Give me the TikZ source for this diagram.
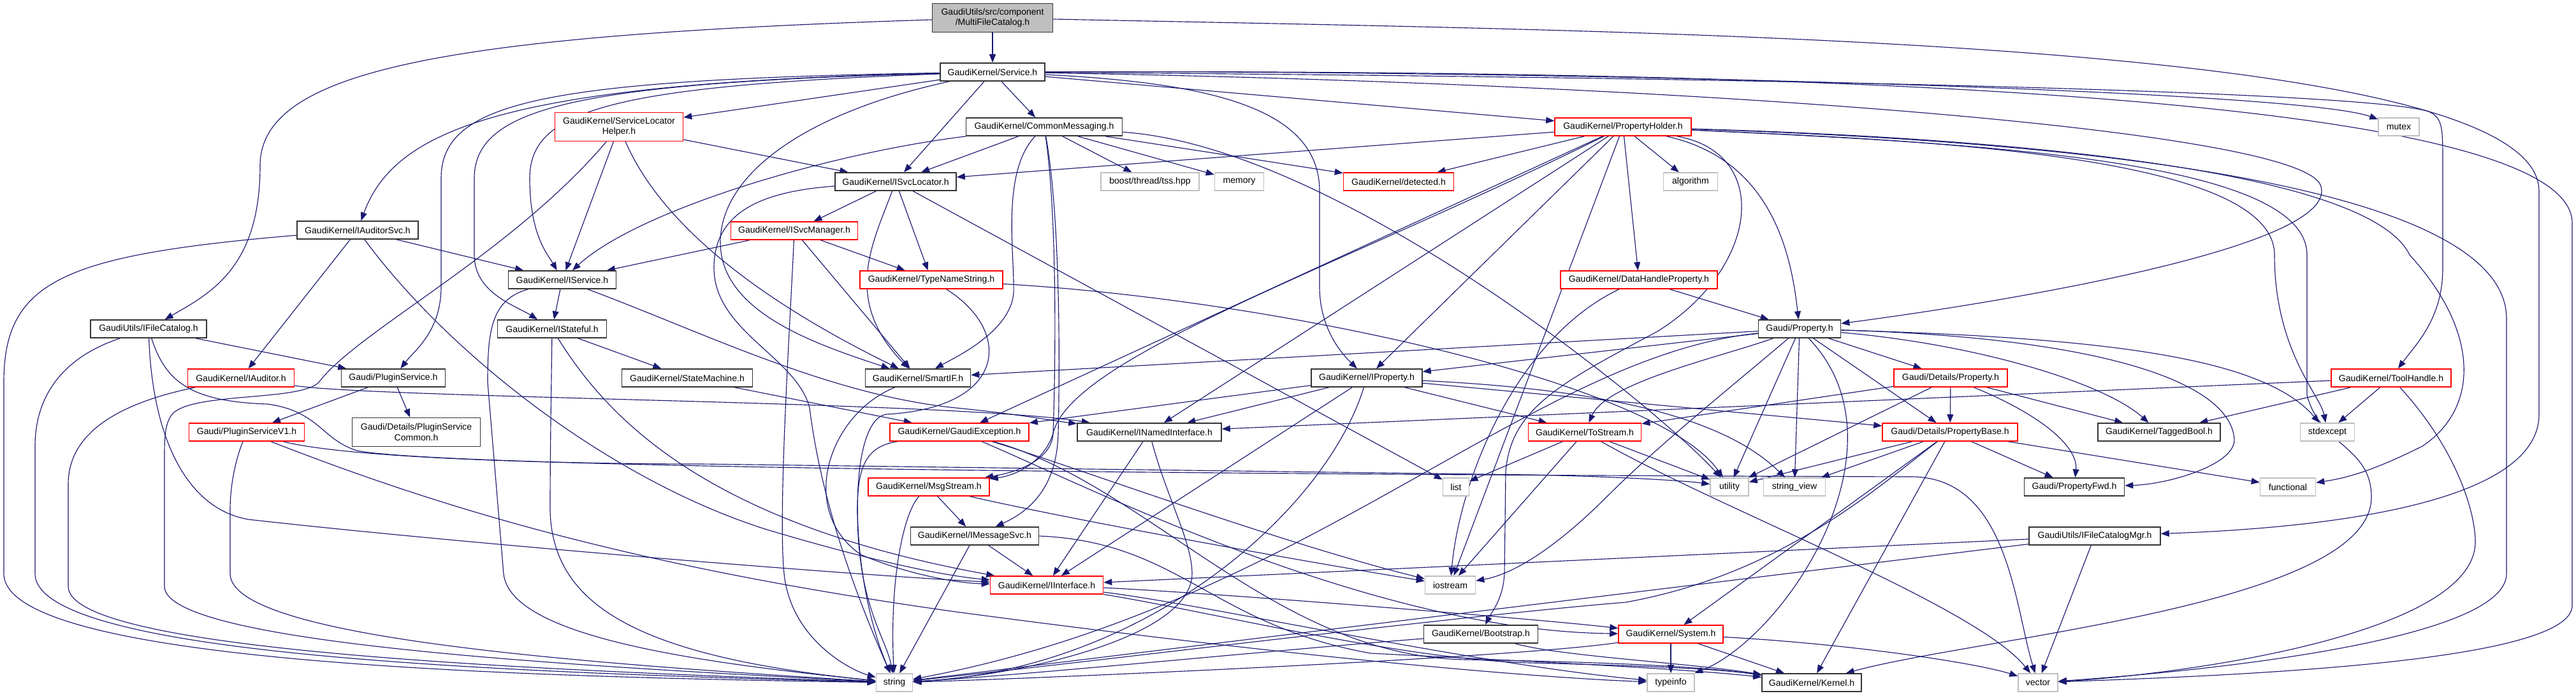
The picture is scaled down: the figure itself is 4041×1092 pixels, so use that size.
\documentclass[tikz,border=0pt]{standalone}
\usepackage{fontspec}
\setmainfont{Liberation Sans}
\usetikzlibrary{arrows.meta,backgrounds}
\definecolor{edgeblue}{HTML}{191970}
\definecolor{truncred}{HTML}{FF0000}
\definecolor{extgray}{HTML}{BFBFBF}
\tikzset{
  hdr/.style={draw=black!80, fill=white, line width=0.9pt, minimum height=0.56cm,
    inner xsep=2pt, inner ysep=1pt, font=\fontsize{8}{9.5}\selectfont, align=center},
  trunc/.style={hdr, draw=truncred},
  ext/.style={hdr, draw=extgray},
  cur/.style={hdr, fill=extgray},
  dep/.style={draw=edgeblue, line width=0.65pt, -{Triangle[length=2.6mm,width=2mm]}}
}
\begin{document}
\begin{tikzpicture}[x=0.02cm, y=-0.02cm]
   \useasboundingbox (0,0) rectangle (4041,1092);

          \node[cur, minimum width=3.78cm, minimum height=0.9cm] (root) at(1557,28) {GaudiUtils/src/component\\/MultiFileCatalog.h};
          \node[hdr, minimum width=3.28cm] (svc) at(1557,113) {GaudiKernel/Service.h};
          \node[trunc, minimum width=4.02cm, minimum height=0.9cm] (slh) at(971,199) {GaudiKernel/ServiceLocator\\Helper.h};
          \node[hdr, minimum width=4.90cm] (cmsg) at(1638,199) {GaudiKernel/CommonMessaging.h};
          \node[trunc, minimum width=4.28cm] (ph) at(2546,199) {GaudiKernel/PropertyHolder.h};
          \node[ext, minimum width=1.28cm] (mtx) at(3763,199) {mutex};
          \node[hdr, minimum width=3.80cm] (isl) at(1405,285) {GaudiKernel/ISvcLocator.h};
          \node[ext, minimum width=3.08cm] (tss) at(1804,285) {boost/thread/tss.hpp};
          \node[ext, minimum width=1.54cm] (mem) at(1944,285) {memory};
          \node[trunc, minimum width=3.46cm] (det) at(2194,285) {GaudiKernel/detected.h};
          \node[ext, minimum width=1.70cm] (alg) at(2652,285) {algorithm};
          \node[hdr, minimum width=3.80cm] (ias) at(561,361) {GaudiKernel/IAuditorSvc.h};
          \node[trunc, minimum width=3.98cm] (ism) at(1246,362) {GaudiKernel/ISvcManager.h};
          \node[hdr, minimum width=3.38cm] (isv) at(882,439) {GaudiKernel/IService.h};
          \node[trunc, minimum width=4.48cm] (tns) at(1461,439) {GaudiKernel/TypeNameString.h};
          \node[trunc, minimum width=4.92cm] (dhp) at(2571,439) {GaudiKernel/DataHandleProperty.h};
          \node[hdr, minimum width=3.64cm] (ifc) at(233,516) {GaudiUtils/IFileCatalog.h};
          \node[hdr, minimum width=3.42cm] (ist) at(866,516) {GaudiKernel/IStateful.h};
          \node[hdr, minimum width=2.58cm] (prop) at(2823,516) {Gaudi/Property.h};
          \node[trunc, minimum width=3.34cm] (iad) at(378,593) {GaudiKernel/IAuditor.h};
          \node[hdr, minimum width=3.26cm] (psv) at(617,593) {Gaudi/PluginService.h};
          \node[hdr, minimum width=4.10cm] (stm) at(1078,593) {GaudiKernel/StateMachine.h};
          \node[hdr, minimum width=3.30cm] (sif) at(1440,593) {GaudiKernel/SmartIF.h};
          \node[hdr, minimum width=3.48cm] (iprp) at(2144,593) {GaudiKernel/IProperty.h};
          \node[trunc, minimum width=3.56cm] (dprp) at(3060,593) {Gaudi/Details/Property.h};
          \node[trunc, minimum width=3.76cm] (th) at(3751,593) {GaudiKernel/ToolHandle.h};
          \node[trunc, minimum width=3.62cm] (psv1) at(387,678) {Gaudi/PluginServiceV1.h};
          \node[hdr, minimum width=4.02cm, minimum height=0.9cm] (psc) at(653,678) {Gaudi/Details/PluginService\\Common.h};
          \node[trunc, minimum width=4.36cm] (gex) at(1505,678) {GaudiKernel/GaudiException.h};
          \node[hdr, minimum width=4.52cm] (inm) at(1803,678) {GaudiKernel/INamedInterface.h};
          \node[trunc, minimum width=3.54cm] (tst) at(2486,678) {GaudiKernel/ToStream.h};
          \node[trunc, minimum width=4.24cm] (pbase) at(3059,678) {Gaudi/Details/PropertyBase.h};
          \node[hdr, minimum width=3.84cm] (tb) at(3387,678) {GaudiKernel/TaggedBool.h};
          \node[ext, minimum width=1.70cm] (stdx) at(3651,678) {stdexcept};
          \node[trunc, minimum width=3.80cm] (msg) at(1457,764) {GaudiKernel/MsgStream.h};
          \node[ext, minimum width=0.82cm] (lst) at(2284,764) {list};
          \node[ext, minimum width=1.20cm] (utl) at(2713,764) {utility};
          \node[ext, minimum width=1.94cm] (sv) at(2815,764) {string\_view};
          \node[hdr, minimum width=3.14cm] (pfwd) at(3254,764) {Gaudi/PropertyFwd.h};
          \node[ext, minimum width=1.74cm] (fnc) at(3589,764) {functional};
          \node[hdr, minimum width=4.02cm] (ims) at(1529,841) {GaudiKernel/IMessageSvc.h};
          \node[hdr, minimum width=4.12cm] (ifcm) at(3286,841) {GaudiUtils/IFileCatalogMgr.h};
          \node[trunc, minimum width=3.54cm] (iif) at(1642,918) {GaudiKernel/IInterface.h};
          \node[ext, minimum width=1.58cm] (ios) at(2275,918) {iostream};
          \node[hdr, minimum width=3.58cm] (bst) at(2323,995) {GaudiKernel/Bootstrap.h};
          \node[trunc, minimum width=3.28cm] (sys) at(2621,995) {GaudiKernel/System.h};
          \node[ext, minimum width=1.14cm] (str) at(1403,1071) {string};
          \node[ext, minimum width=1.48cm] (tinf) at(2621,1071) {typeinfo};
          \node[hdr, minimum width=3.12cm] (krn) at(2842,1071) {GaudiKernel/Kernel.h};
          \node[ext, minimum width=1.24cm] (vec) at(3197,1071) {vector};

  \begin{scope}[on background layer]
    \foreach \a/\b in {root/svc, svc/slh, svc/cmsg, svc/isl, svc/ph, slh/isl, slh/isv,
             cmsg/isl, cmsg/tss, cmsg/mem, cmsg/det, ph/isl, ph/det, ph/alg, ph/dhp,
             ph/iprp, ph/inm, ph/gex, ph/ios, isl/ism, isl/tns, isl/lst, ism/isv,
             ism/sif, ism/tns, ias/isv, ias/iad, isv/ist, ist/stm, stm/gex, ifc/psv,
             psv/psv1, psv/psc, inm/iif, msg/ims, ims/iif, ims/str, sys/tinf, sys/krn,
             dhp/prop, prop/sif, prop/iprp, prop/dprp, prop/pbase, prop/sv, prop/utl,
             iprp/inm, iprp/gex, iprp/iif, iprp/tst, iprp/pbase, dprp/pbase, dprp/tb,
             dprp/tst, dprp/utl, pbase/pfwd, pbase/utl, pbase/sv, pbase/fnc, pbase/sys,
             pbase/krn, tst/lst, tst/ios, tst/utl, th/inm, th/tb, th/stdx, ifcm/iif,
             ifcm/str, ifcm/vec}
             {
               \draw[dep] (\a) -- (\b);
             }

             \draw[dep] (root) .. controls (700,55) and (408,110) .. (408,260)
                .. controls (408,420) and (330,460) .. (ifc);
             \draw[dep] (root) .. controls (2600,50) and (3983,60) .. (3983,300) -- (3983,650)
                .. controls (3983,800) and (3600,830) .. (ifcm);

             \draw[dep] (svc) .. controls (2400,110) and (3600,140) .. (mtx);
             \draw[dep] (svc) .. controls (2600,120) and (3700,140) .. (3810,175)
                .. controls (3832,185) and (3832,200) .. (3832,260) -- (3832,420)
                .. controls (3832,500) and (3790,540) .. (th);
             \draw[dep] (svc) .. controls (2600,110) and (4035,130) .. (4035,350) -- (4035,950)
                .. controls (4035,1040) and (3500,1060) .. (vec);
             \draw[dep] (svc) .. controls (2600,130) and (3600,200) .. (3640,290)
                .. controls (3680,390) and (3100,480) .. (prop);
             \draw[dep] (svc) .. controls (1900,130) and (2070,170) .. (2070,300) -- (2070,450)
                .. controls (2070,520) and (2110,560) .. (iprp);
             \draw[dep] (svc) .. controls (800,130) and (620,200) .. (ias);
             \draw[dep] (svc) .. controls (850,125) and (692,160) .. (692,280) -- (692,450)
                .. controls (692,520) and (650,550) .. (psv);
             \draw[dep] (svc) .. controls (900,130) and (744,170) .. (744,280) -- (744,400)
                .. controls (744,460) and (810,480) .. (ist);
             \draw[dep] (svc) .. controls (950,135) and (831,175) .. (831,280)
                .. controls (831,370) and (860,400) .. (isv);
             \draw[dep] (svc) .. controls (1250,180) and (1130,280) .. (1130,380)
                .. controls (1130,490) and (1280,540) .. (sif);

             \draw[dep] (slh) .. controls (1050,380) and (1250,500) .. (sif);
             \draw[dep] (slh) .. controls (800,400) and (560,520) .. (500,600)
                .. controls (470,630) and (300,615) .. (270,650)
                .. controls (258,665) and (258,690) .. (258,720) -- (258,920)
                .. controls (258,1010) and (900,1045) .. (str);

             \draw[dep] (cmsg) .. controls (1300,240) and (1000,330) .. (isv);
             \draw[dep] (cmsg) .. controls (2100,230) and (2600,640) .. (utl);
             \draw[dep] (cmsg) .. controls (1570,270) and (1592,400) .. (1590,460)
                .. controls (1585,520) and (1500,560) .. (sif);
             \draw[dep] (cmsg) .. controls (1660,350) and (1655,600) .. (1652,680)
                .. controls (1650,720) and (1600,740) .. (msg);
             \draw[dep] (cmsg) .. controls (1665,350) and (1662,600) .. (1660,680)
                .. controls (1658,760) and (1620,800) .. (ims);

             \draw[dep] (ph) .. controls (2780,250) and (2810,400) .. (prop);
             \draw[dep] (ph) .. controls (2780,240) and (2760,420) .. (2600,520)
                .. controls (2450,600) and (2370,640) .. (2362,740) -- (2360,900)
                .. controls (2358,940) and (2340,960) .. (bst);
             \draw[dep] (ph) .. controls (2100,420) and (1680,560) .. (1652,680)
                .. controls (1640,720) and (1600,745) .. (msg);
             \draw[dep] (ph) .. controls (3000,220) and (3568,240) .. (3568,400)
                .. controls (3568,550) and (3640,620) .. (stdx);
             \draw[dep] (ph) .. controls (3200,220) and (3932,280) .. (3932,500) -- (3932,900)
                .. controls (3932,1000) and (3500,1050) .. (vec);
             \draw[dep] (ph) .. controls (3100,215) and (3713,260) .. (3780,400)
                .. controls (3890,520) and (3890,640) .. (3800,700)
                .. controls (3720,740) and (3680,750) .. (fnc);
             \draw[dep] (ph) .. controls (3100,225) and (3619,250) .. (3619,400) -- (3619,620)
                .. controls (3640,700) and (3720,700) .. (3720,780)
                .. controls (3720,950) and (3100,1000) .. (krn);

             \draw[dep] (isl) .. controls (1370,380) and (1320,470) .. (sif);
             \draw[dep] (isl) .. controls (1200,300) and (1120,330) .. (1120,420)
                .. controls (1120,520) and (1250,560) .. (1270,640)
                .. controls (1290,800) and (1350,950) .. (str);
             \draw[dep] (ism) .. controls (1240,500) and (1220,800) .. (1230,900)
                .. controls (1240,1000) and (1330,1050) .. (str);

             \draw[dep] (ias) .. controls (100,400) and (6,440) .. (6,600) -- (6,900)
                .. controls (6,1040) and (800,1062) .. (str);
             \draw[dep] (ias) .. controls (700,550) and (950,750) .. (1200,830)
                .. controls (1400,890) and (1500,905) .. (iif);
             \draw[dep] (isv) .. controls (1100,520) and (1300,620) .. (1500,640)
                .. controls (1600,650) and (1650,660) .. (inm);
             \draw[dep] (isv) .. controls (770,470) and (765,520) .. (765,600) -- (790,900)
                .. controls (800,1000) and (1100,1040) .. (str);
             \draw[dep] (ist) .. controls (950,650) and (1100,820) .. (iif);
             \draw[dep] (ist) .. controls (865,600) and (863,700) .. (863,800)
                .. controls (866,950) and (1000,1030) .. (str);

             \draw[dep] (tns) .. controls (1590,520) and (1580,640) .. (1390,650)
                .. controls (1330,660) and (1330,900) .. (str);
             \draw[dep] (tns) .. controls (2000,470) and (2600,600) .. (utl);
             \draw[dep] (sif) .. controls (1300,650) and (1250,800) .. (1350,870)
                .. controls (1420,900) and (1500,915) .. (iif);

             \draw[dep] (ifc) .. controls (100,560) and (55,620) .. (55,700) -- (55,900)
                .. controls (55,1030) and (800,1055) .. (str);
             \draw[dep] (ifc) .. controls (240,700) and (300,800) .. (390,815)
                .. controls (700,850) and (1300,900) .. (iif);
             \draw[dep] (ifc) .. controls (260,600) and (300,630) .. (420,634)
                .. controls (500,645) and (505,690) .. (560,707)
                .. controls (700,735) and (2000,745) .. (3000,748)
                .. controls (3150,750) and (3160,950) .. (vec);
             \draw[dep] (iad) .. controls (600,625) and (1500,630) .. (inm);
             \draw[dep] (iad) .. controls (150,640) and (107,700) .. (107,760) -- (107,920)
                .. controls (107,1020) and (800,1050) .. (str);
             \draw[dep] (psv1) .. controls (370,720) and (361,760) .. (361,800) -- (361,900)
                .. controls (361,1000) and (900,1040) .. (str);
             \draw[dep] (psv1) .. controls (550,720) and (900,728) .. (1100,728) -- (2400,745)
                .. controls (2550,748) and (2650,755) .. (utl);
             \draw[dep] (psv1) .. controls (700,800) and (1000,890) .. (1500,960)
                .. controls (2100,1040) and (2450,1065) .. (tinf);

             \draw[dep] (gex) .. controls (1360,700) and (1345,730) .. (1345,800)
                .. controls (1345,950) and (1390,1000) .. (str);
             \draw[dep] (gex) .. controls (1650,720) and (2000,850) .. (ios);
             \draw[dep] (gex) .. controls (1700,760) and (2150,990) .. (sys);
             \draw[dep] (gex) .. controls (1800,760) and (2000,1030) .. (2300,1035)
                .. controls (2600,1040) and (2700,1050) .. (krn);
             \draw[dep] (inm) .. controls (1830,780) and (1870,850) .. (1870,900)
                .. controls (1870,1000) and (1600,1060) .. (str);
             \draw[dep] (msg) .. controls (1420,800) and (1395,900) .. (str);
             \draw[dep] (msg) .. controls (1700,820) and (2100,890) .. (ios);
             \draw[dep] (ims.east) .. controls (1850,850) and (1900,980) .. (2150,1025)
                .. controls (2450,1040) and (2650,1050) .. (krn);
             \draw[dep] (iif) .. controls (1900,930) and (2400,970) .. (sys);
             \draw[dep] (iif) .. controls (1900,950) and (2300,1040) .. (tinf);
             \draw[dep] (iif) .. controls (1900,960) and (2200,1035) .. (2400,1040)
                .. controls (2600,1045) and (2700,1050) .. (krn);
             \draw[dep] (sys) .. controls (2400,1030) and (1700,1062) .. (str);
             \draw[dep] (sys) .. controls (2900,1010) and (3100,1040) .. (vec);
             \draw[dep] (bst) .. controls (2000,1020) and (1600,1060) .. (str);
             \draw[dep] (bst) .. controls (2450,1030) and (2650,1040) .. (krn);

             \draw[dep] (dhp) .. controls (2380,530) and (2290,750) .. (ios);
             \draw[dep] (prop) .. controls (2700,560) and (2520,600) .. (tst);
             \draw[dep] (prop) .. controls (3300,530) and (3500,600) .. (3505,690)
                .. controls (3505,730) and (3400,760) .. (pfwd);
             \draw[dep] (prop) .. controls (3100,540) and (3300,600) .. (tb);
             \draw[dep] (prop) .. controls (3300,530) and (3550,560) .. (stdx);
             \draw[dep] (prop) .. controls (2400,560) and (2050,950) .. (str);
             \draw[dep] (prop) .. controls (3000,700) and (2800,1000) .. (tinf);
             \draw[dep] (prop) .. controls (2700,620) and (2600,700) .. (2520,780)
                .. controls (2450,850) and (2380,900) .. (ios);
             \draw[dep] (iprp) .. controls (2080,800) and (1800,1050) .. (str);
             \draw[dep] (iprp) .. controls (2500,610) and (2700,650) .. (sv);
             \draw[dep] (dprp) .. controls (3200,650) and (3260,700) .. (pfwd);
             \draw[dep] (pbase) .. controls (2950,760) and (2800,900) .. (2550,945)
                .. controls (2300,965) and (1700,1040) .. (str);
             \draw[dep] (tst) .. controls (2700,800) and (3100,950) .. (vec);
             \draw[dep] (th) .. controls (3850,700) and (3883,800) .. (3883,850)
                .. controls (3883,1000) and (3400,1060) .. (vec);
  \end{scope}
\end{tikzpicture}
\end{document}
